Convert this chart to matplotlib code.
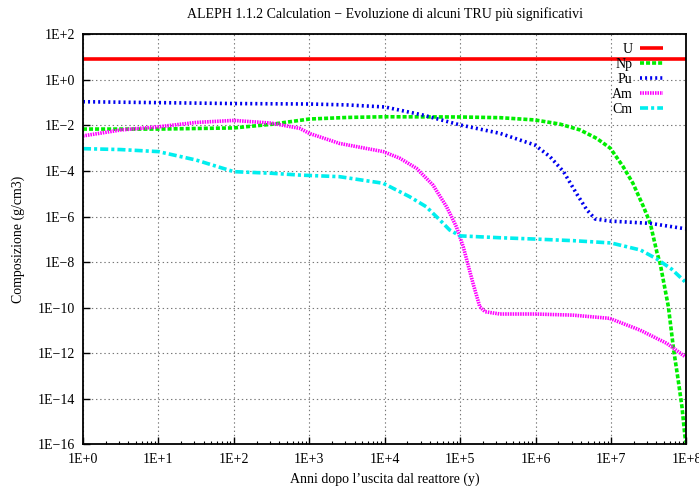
import matplotlib
matplotlib.use("Agg")
import matplotlib.pyplot as plt
from matplotlib.ticker import FixedLocator, NullLocator, LogLocator, NullFormatter

plt.rcParams['font.family'] = ['Liberation Serif', 'DejaVu Serif']
plt.rcParams['lines.scale_dashes'] = False

# Data: log10(years) -> log10(g/cm3)
u_x = [0, 8]
u_y = [0.93, 0.93]

np_x = [0, 1, 2, 2.5, 3, 3.5, 4, 5, 5.53, 5.99, 6.32, 6.59, 6.81, 6.99, 7.16, 7.29, 7.43, 7.52, 7.56,
        7.61, 7.65, 7.76, 7.83, 7.89, 7.94, 7.98, 8.0]
np_y = [-2.16, -2.16, -2.11, -1.95, -1.72, -1.65, -1.62, -1.63, -1.66, -1.76, -1.94, -2.2, -2.57, -3.0,
        -3.81, -4.54, -5.57, -6.3, -6.88, -7.6, -8.05, -9.96, -11.86, -13.18, -14.35, -15.66, -16.0]

pu_x = [0, 1, 2, 3, 3.5, 4, 4.5, 5, 5.53, 5.99, 6.19, 6.37, 6.54, 6.68, 6.79, 6.99, 7.52, 7.95, 8.0]
pu_y = [-0.96, -1.0, -1.04, -1.06, -1.1, -1.19, -1.54, -1.98, -2.35, -2.86, -3.37, -4.03, -4.98, -5.71,
        -6.11, -6.2, -6.3, -6.52, -6.54]

am_x = [0, 0.5, 1, 1.5, 2, 2.5, 2.875, 3, 3.4, 3.98, 4.2, 4.42, 4.64, 4.82, 4.95, 5.04, 5.17, 5.26,
        5.33, 5.53, 6, 6.5, 6.98, 7.38, 7.74, 7.98]
am_y = [-2.46, -2.2, -2.06, -1.87, -1.78, -1.9, -2.13, -2.35, -2.79, -3.15, -3.44, -3.88, -4.62, -5.57,
        -6.45, -7.32, -8.93, -9.96, -10.18, -10.28, -10.28, -10.33, -10.47, -10.98, -11.57, -12.15]

cm_x = [0, 0.5, 1, 1.5, 2, 2.5, 2.875, 3.4, 3.98, 4.33, 4.55, 4.73, 4.86, 5.0, 5.52, 6, 6.5, 7, 7.39,
        7.6, 7.8, 7.98]
cm_y = [-3.02, -3.06, -3.15, -3.52, -4.03, -4.1, -4.18, -4.25, -4.54, -5.13, -5.57, -6.15, -6.59, -6.85,
        -6.93, -6.99, -7.06, -7.16, -7.47, -7.85, -8.3, -8.86]

series = [
    ("U", u_x, u_y, "#ff0000", "-"),
    ("Np", np_x, np_y, "#00ee00", (0, (2.9, 1.45))),
    ("Pu", pu_x, pu_y, "#0000ee", (0, (1.45, 2.2))),
    ("Am", am_x, am_y, "#ff00ff", (0, (1.1, 0.7))),
    ("Cm", cm_x, cm_y, "#00eeee", (0, (5.8, 2.2, 2.2, 2.2))),
]

ytick_labels = ["1E+2", "1E+0", "1E\u22122", "1E\u22124", "1E\u22126", "1E\u22128", "1E\u221210",
                "1E\u221212", "1E\u221214", "1E\u221216"]
xtick_labels = ["1E+0", "1E+1", "1E+2", "1E+3", "1E+4", "1E+5", "1E+6", "1E+7", "1E+8"]

fig = plt.figure(figsize=(6.99, 4.86), dpi=100)
ax = fig.add_axes([0.1187, 0.0858, 0.8634, 0.8436])

for name, xs, ys, col, ls in series:
    X = [10 ** v for v in xs]
    Y = [10 ** v for v in ys]
    ax.plot(X, Y, color=col, linestyle=ls, lw=2.6, label=name, solid_capstyle='butt',
            dash_capstyle='butt')

ax.set_xscale('log')
ax.set_yscale('log')
ax.set_xlim(1, 1e8)
ax.set_ylim(1e-16, 1e2)

ax.xaxis.set_major_locator(FixedLocator([10 ** i for i in range(0, 9)]))
ax.set_xticklabels(xtick_labels)
ax.xaxis.set_minor_locator(LogLocator(base=10, subs=range(2, 10), numticks=100))
ax.xaxis.set_minor_formatter(NullFormatter())
ax.yaxis.set_major_locator(FixedLocator([10.0 ** v for v in range(2, -17, -2)]))
ax.set_yticklabels(ytick_labels)
ax.yaxis.set_minor_locator(NullLocator())

ax.tick_params(axis='both', which='major', direction='in', length=5, width=1.0,
               labelsize=10, top=False, right=False)
ax.tick_params(axis='x', which='major', pad=6)
ax.tick_params(axis='y', which='major', pad=5.5)
ax.tick_params(axis='x', which='minor', direction='in', length=2.5, width=0.8,
               top=False)

ax.grid(True, which='major', linestyle=(0, (1, 2)), color='#777777', linewidth=0.8)
for s in ax.spines.values():
    s.set_linewidth(1.3)
    s.set_color('black')

ax.set_title("ALEPH 1.1.2 Calculation \u2212 Evoluzione di alcuni TRU più significativi",
             fontsize=10, pad=12)
ax.set_xlabel("Anni dopo l\u2019uscita dal reattore (y)", fontsize=10, labelpad=5)
ax.set_ylabel("Composizione (g/cm3)", fontsize=10, labelpad=9)

leg = ax.legend(loc='upper right', frameon=False, markerfirst=False, fontsize=10,
                handlelength=1.65, handletextpad=0.55, labelspacing=0.15,
                borderaxespad=0.2, bbox_to_anchor=(0.975, 1.0))
for t in leg.get_texts():
    t.set_ha('right')

fig.savefig("out.png", dpi=100)
